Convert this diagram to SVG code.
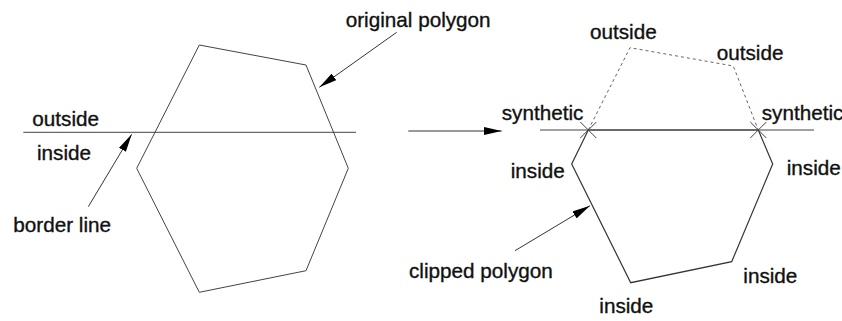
<svg xmlns="http://www.w3.org/2000/svg" width="842" height="321" viewBox="0 0 842 321">
<defs>
<style>
text{font-family:"Liberation Sans",Arial,sans-serif;font-size:20.7px;fill:#111;stroke:#111;stroke-width:0.35}
.ln{fill:none;stroke:#444;stroke-width:1}
.cl{fill:none;stroke:#333;stroke-width:1.2}
.ds{fill:none;stroke:#666;stroke-width:1;stroke-dasharray:3,3}
.ar{fill:none;stroke:#333;stroke-width:1}
</style>
<marker id="ah" viewBox="0 0 18 8" refX="18" refY="4" markerWidth="18" markerHeight="8" markerUnits="userSpaceOnUse" orient="auto">
<path d="M0,0 L18,4 L0,8 z" fill="#000"/>
</marker>
</defs>
<rect width="842" height="321" fill="#fff"/>
<g id="original-polygon">
<polygon class="ln" points="199.3,45 306,65 348.3,168.3 306,270.7 199.3,292.3 136.7,168.3"/>
</g>
<g id="border-line-left">
<line class="ln" x1="23.3" y1="132.3" x2="356" y2="132.3"/>
</g>
<g id="clipped-polygon">
<line class="ln" x1="540" y1="130" x2="814" y2="130"/>
<polyline class="ds" points="588.3,130 630,47.7 733.3,66 758.3,130"/>
<polyline class="cl" points="758.3,130 588.3,130 571.7,164 630.7,282.7 731.7,261.7 772.7,164 758.3,130"/>
</g>
<g id="synthetic-markers">
<path class="ln" d="M580.3,122 L596.3,138 M596.3,122 L580.3,138"/>
<path class="ln" d="M750.3,122 L766.3,138 M766.3,122 L750.3,138"/>
</g>
<g id="connectors">
<line class="ar" x1="396.7" y1="32.3" x2="319.3" y2="87.3" marker-end="url(#ah)"/>
<line class="ar" x1="88.3" y1="206.7" x2="131.7" y2="134.3" marker-end="url(#ah)"/>
<line class="ar" x1="408.3" y1="131" x2="501.7" y2="131" marker-end="url(#ah)"/>
<line class="ar" x1="515" y1="250.7" x2="590" y2="205.7" marker-end="url(#ah)"/>
</g>
<g id="labels">
<text x="345.7" y="26.7">original polygon</text>
<text x="32.3" y="125.7">outside</text>
<text x="37" y="160">inside</text>
<text x="13.3" y="232">border line</text>
<text x="590" y="39.3">outside</text>
<text x="716.7" y="60">outside</text>
<text x="501.7" y="119.5">synthetic</text>
<text x="761.7" y="119.5">synthetic</text>
<text x="510.7" y="178.3">inside</text>
<text x="786.7" y="175">inside</text>
<text x="409" y="278.3">clipped polygon</text>
<text x="743.3" y="283.3">inside</text>
<text x="599.3" y="313.3">inside</text>
</g>
</svg>
